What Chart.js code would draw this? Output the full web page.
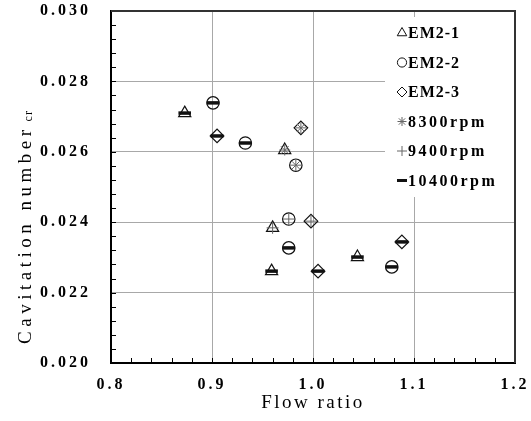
<!DOCTYPE html>
<html>
<head>
<meta charset="utf-8">
<script src="https://cdn.jsdelivr.net/npm/chart.js@4.4.1/dist/chart.umd.min.js"></script>
<style>
html,body{margin:0;padding:0;background:#fff}
#wrap{width:531px;height:421px}
</style>
</head>
<body>
<div id="wrap"><canvas id="chart"></canvas></div>
<script>
'use strict'
// readings: flow ratio (x), critical cavitation number (y), rotor speed of each point
let em21X=[0.873,0.972,0.960,0.959,1.044]
let em21Y=[0.0271,0.02605,0.02384,0.02261,0.02301]
let em21Rpm=[10400,8300,9400,10400,10400]

let em22X=[0.901,0.933,0.983,0.976,0.976,1.078]
let em22Y=[0.02739,0.02625,0.02562,0.02409,0.02327,0.02273]
let em22Rpm=[10400,10400,8300,9400,10400,10400]

let em23X=[0.905,0.988,0.998,1.005,1.088]
let em23Y=[0.02645,0.02668,0.02403,0.02261,0.02344]
let em23Rpm=[10400,8300,9400,10400,10400]

let seriesNames=['EM2-1','EM2-2','EM2-3']
let rpmValues=[8300,9400,10400]
let rpmNames=['8300rpm','9400rpm','10400rpm']

let xTickLabels=['0.8','0.9','1.0','1.1','1.2']
let yTickLabels=['0.020','0.022','0.024','0.026','0.028','0.030']

let serif='"Liberation Serif", "Times New Roman", serif'

let shapeStyles=['triangle','circle','rectRot']
let shapeRadius=[7,6.2,6.8]
let rpmStyles=['star','cross','line']
let rpmColors=['#666','#666','#111']
let rpmWidths=[1,1,3.5]
let rpmRadius=[5.5,6,6.3]

function pts(xs,ys){
  let out=[]
  for(let i=0;i<xs.length;i++) out.push({x:xs[i],y:ys[i]})
  return out
}

let allX=[em21X,em22X,em23X]
let allY=[em21Y,em22Y,em23Y]
let allRpm=[em21Rpm,em22Rpm,em23Rpm]

let datasets=[]
for(let s=0;s<3;s++){
  datasets.push({
    label:seriesNames[s],
    data:pts(allX[s],allY[s]),
    pointStyle:shapeStyles[s],
    pointRadius:shapeRadius[s],
    pointBorderWidth:1.2,
    pointBorderColor:'#111',
    pointBackgroundColor:'rgba(255,255,255,0)',
    order:2
  })
}
for(let r=0;r<rpmValues.length;r++){
  let d=[]
  for(let s=0;s<3;s++){
    for(let i=0;i<allRpm[s].length;i++){
      if(allRpm[s][i]==rpmValues[r]) d.push({x:allX[s][i],y:allY[s][i]})
    }
  }
  datasets.push({
    label:rpmNames[r],
    data:d,
    pointStyle:rpmStyles[r],
    pointRadius:rpmRadius[r],
    pointBorderWidth:rpmWidths[r],
    pointBorderColor:rpmColors[r],
    order:1
  })
}

let extras={
  id:'extras',
  beforeDraw(chart){
    chart.ctx.letterSpacing='3px'
  },
  afterDraw(chart){
    let ctx=chart.ctx
    let a=chart.chartArea
    let xs=chart.scales.x
    let ys=chart.scales.y
    ctx.save()

    // minor ticks, pointing inward
    ctx.strokeStyle='#000'
    ctx.lineWidth=1
    ctx.beginPath()
    for(let i=0;i<=20;i++){
      let px=Math.round(xs.getPixelForValue(0.8+i*0.02))+0.5
      ctx.moveTo(px,a.bottom)
      ctx.lineTo(px,a.bottom-5)
    }
    for(let i=0;i<=25;i++){
      let py=Math.round(ys.getPixelForValue(0.02+i*0.0004))+0.5
      ctx.moveTo(a.left,py)
      ctx.lineTo(a.left+5,py)
    }
    ctx.stroke()

    // top and right frame
    ctx.strokeStyle='#333'
    ctx.lineWidth=2
    ctx.beginPath()
    ctx.moveTo(a.left,a.top)
    ctx.lineTo(a.right,a.top)
    ctx.lineTo(a.right,a.bottom)
    ctx.stroke()

    // legend inside plot
    let lx=a.right-130
    ctx.fillStyle='#fff'
    ctx.fillRect(lx,a.top+6,129,180)
    let labels=seriesNames.concat(rpmNames)
    let styles=shapeStyles.concat(rpmStyles)
    let radii=[5.5,4.6,5,4.5,5,5]
    let widths=[1,1,1,1,1,3]
    let cols=['#111','#111','#111','#666','#666','#111']
    let h=Chart.helpers
    for(let i=0;i<labels.length;i++){
      let y=a.top+22+i*29.5
      ctx.strokeStyle=cols[i]
      ctx.fillStyle='rgba(255,255,255,0)'
      ctx.lineWidth=widths[i]
      h.drawPoint(ctx,{pointStyle:styles[i],radius:radii[i],borderWidth:widths[i],rotation:0},lx+17,y)
      ctx.fillStyle='#000'
      ctx.font='bold 16px '+serif
      ctx.letterSpacing=(i<3?'1px':'2.5px')
      ctx.textAlign='left'
      ctx.textBaseline='middle'
      ctx.fillText(labels[i],lx+23,y+1)
    }

    // axis titles
    ctx.fillStyle='#000'
    ctx.font='19px '+serif
    ctx.letterSpacing='2.5px'
    ctx.textAlign='center'
    ctx.textBaseline='middle'
    ctx.fillText('Flow ratio',(a.left+a.right)/2,403)

    ctx.translate(23,(a.top+a.bottom)/2+40)
    ctx.rotate(-Math.PI/2)
    ctx.letterSpacing='4.5px'
    ctx.textAlign='left'
    ctx.textBaseline='alphabetic'
    let main='Cavitation number'
    let w1=ctx.measureText(main).width
    ctx.font='12px '+serif
    ctx.letterSpacing='1px'
    let w2=ctx.measureText('cr').width
    let start=-(w1+w2+4)/2
    ctx.font='19px '+serif
    ctx.letterSpacing='4.5px'
    ctx.fillText(main,start,8)
    ctx.font='12px '+serif
    ctx.letterSpacing='1px'
    ctx.fillText('cr',start+w1+4,9)
    ctx.restore()
  }
}

new Chart(document.getElementById('chart'),{
  type:'scatter',
  data:{datasets:datasets},
  options:{
    responsive:true,
    maintainAspectRatio:false,
    animation:false,
    layout:{padding:{left:0,top:11,right:16,bottom:0}},
    plugins:{legend:{display:false},tooltip:{enabled:false}},
    scales:{
      x:{
        type:'linear',
        min:0.8,max:1.2,
        afterFit(scale){scale.height=58;scale.paddingLeft=0;scale.paddingRight=0},
        border:{color:'#000',width:2},
        grid:{color:'#a8a8a8',lineWidth:1,drawTicks:false},
        ticks:{
          stepSize:0.1,
          padding:12,
          color:'#000',
          font:{family:serif,size:16,weight:'bold'},
          callback:(v,i)=>xTickLabels[i]
        }
      },
      y:{
        type:'linear',
        min:0.02,max:0.03,
        afterFit(scale){scale.width=111;scale.paddingTop=0;scale.paddingBottom=0},
        border:{color:'#000',width:2},
        grid:{color:'#a8a8a8',lineWidth:1,drawTicks:false},
        ticks:{
          stepSize:0.002,
          padding:20,
          color:'#000',
          font:{family:serif,size:16,weight:'bold'},
          callback:(v,i)=>yTickLabels[i]
        }
      }
    }
  },
  plugins:[extras]
})
</script>
</body>
</html>
